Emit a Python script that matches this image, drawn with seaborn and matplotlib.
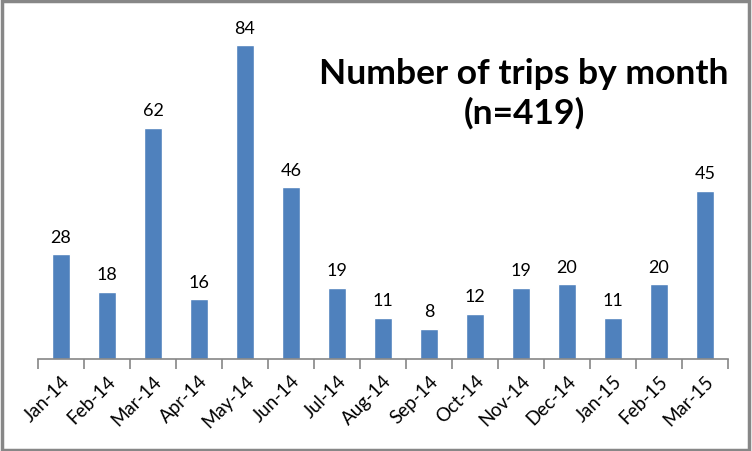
import matplotlib
matplotlib.use("Agg")
import matplotlib.pyplot as plt
import numpy as np
import pandas as pd
import seaborn as sns
from matplotlib.patches import Rectangle

months = ["Jan-14", "Feb-14", "Mar-14", "Apr-14", "May-14", "Jun-14", "Jul-14",
          "Aug-14", "Sep-14", "Oct-14", "Nov-14", "Dec-14", "Jan-15", "Feb-15", "Mar-15"]
trips = [28, 18, 62, 16, 84, 46, 19, 11, 8, 12, 19, 20, 11, 20, 45]

df = pd.DataFrame({"month": months, "trips": trips})

sns.set_theme(style="white")
plt.rcParams["font.family"] = ["Lato", "DejaVu Sans"]

fig = plt.figure(figsize=(7.52, 4.52), dpi=100)
ax = fig.add_axes([38 / 752, 1 - 360 / 452, 690 / 752, 336 / 452])

sns.barplot(data=df, x="month", y="trips", color="#4F81BD", width=0.41,
            saturation=1, ax=ax)

ax.set_xlim(-0.5, len(months) - 0.5)
ax.set_ylim(0, 90)
ax.set_xlabel("")
ax.set_ylabel("")
ax.set_yticks([])

# boundary ticks as major, labels on minor ticks at bar centres
ax.set_xticks(np.arange(len(months) + 1) - 0.5)
ax.set_xticklabels([])
ax.set_xticks(np.arange(len(months)), minor=True)
ax.set_xticklabels(months, minor=True, rotation=45, ha="right",
                   rotation_mode="anchor", fontsize=13.5, color="#000000")
ax.tick_params(axis="x", which="major", length=7, width=1.2, color="#868686",
               direction="out", bottom=True)
ax.tick_params(axis="x", which="minor", length=0, pad=9)

for s in ["top", "right", "left"]:
    ax.spines[s].set_visible(False)
ax.spines["bottom"].set_color("#868686")
ax.spines["bottom"].set_linewidth(1.2)

for i, v in enumerate(trips):
    ax.text(i, v + 2.6, str(v), ha="center", va="bottom", fontsize=13,
            color="#000000")

fig.text(524 / 752, 1 - 94 / 452, "Number of trips by month\n(n=419)",
         ha="center", va="center", fontsize=25.5, fontweight="bold",
         linespacing=1.28, color="#000000")

fig.patches.append(Rectangle((0.002, 0.003), 0.994, 0.993, transform=fig.transFigure,
                             fill=False, edgecolor="#878787", linewidth=2.5))

fig.savefig("out.png", dpi=100)
